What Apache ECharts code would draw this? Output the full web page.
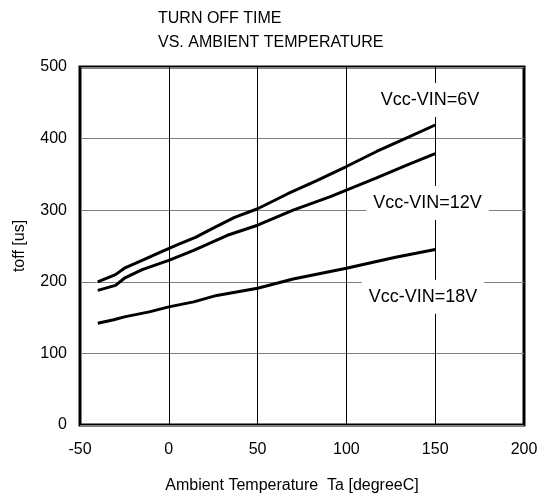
<!DOCTYPE html>
<html>
<head>
<meta charset="utf-8">
<script src="https://cdn.jsdelivr.net/npm/echarts@6/dist/echarts.min.js"></script>
<style>
  html, body { margin: 0; padding: 0; background: #fff; }
  #chart { width: 542px; height: 499px; }
</style>
</head>
<body>
<div id="chart"></div>
<script>
// Turn-off time vs. ambient temperature, three supply differentials
const temp6V  = [-40, -30, -25, -15, -5, 5, 15, 25, 37, 50, 67, 83, 100, 117, 134, 150];
const toff6V  = [200, 210, 219, 230, 241, 252, 262, 275, 290, 302, 323, 341, 361, 382, 401, 419];

const temp12V = [-40, -30, -25, -15, 0, 14, 33, 50, 70, 91, 100, 117, 134, 150];
const toff12V = [188, 195, 205, 217, 230, 244, 265, 279, 300, 319, 328, 345, 363, 379];

const temp18V = [-40, -31, -25, -11, 0, 14, 27, 50, 70, 100, 127, 150];
const toff18V = [142, 147, 151, 158, 165, 172, 181, 191, 204, 219, 234, 245];

const seriesNames = ['Vcc-VIN=6V', 'Vcc-VIN=12V', 'Vcc-VIN=18V'];
const xTicks = [-50, 0, 50, 100, 150, 200];
const yTicks = [0, 100, 200, 300, 400, 500];

const FONT = "'Liberation Sans', Arial, Helvetica, sans-serif";

function pairs(xs, ys) {
  return xs.map((x, i) => [x, ys[i]]);
}

// Curve annotation with a white box so grid lines break behind it
function tag(name, coord) {
  return {
    symbol: 'rect',
    symbolSize: 0,
    silent: true,
    data: [{ coord: coord, value: name }],
    label: {
      show: true,
      position: 'inside',
      formatter: name,
      color: '#000',
      fontFamily: FONT,
      fontSize: 18,
      backgroundColor: '#fff',
      padding: [8, 7, 8, 7]
    }
  };
}

const lineStyle = { color: '#000', width: 3 };

const chart = echarts.init(document.getElementById('chart'), null, { renderer: 'canvas' });
chart.setOption({
  animation: false,
  backgroundColor: '#fff',
  title: {
    text: 'TURN OFF TIME\nVS. AMBIENT TEMPERATURE',
    left: 153,
    top: 2,
    textStyle: {
      fontFamily: FONT,
      fontSize: 16,
      fontWeight: 'normal',
      color: '#000',
      lineHeight: 23.5
    }
  },
  grid: {
    left: 80, right: 18, top: 67, bottom: 74,
    show: true,
    borderColor: '#000',
    borderWidth: 3,
    backgroundColor: 'transparent'
  },
  xAxis: {
    type: 'value',
    min: xTicks[0],
    max: xTicks[xTicks.length - 1],
    interval: 50,
    name: 'Ambient Temperature  Ta [degreeC]',
    nameLocation: 'middle',
    nameGap: 53,
    nameTextStyle: {
      fontFamily: FONT, fontSize: 16, color: '#000',
      padding: [0, 20, 0, 0]
    },
    axisLine: { show: false },
    axisTick: { show: false },
    axisLabel: { fontFamily: FONT, fontSize: 16, color: '#000', margin: 17 },
    splitLine: { show: true, lineStyle: { color: '#000', width: 1 } }
  },
  yAxis: {
    type: 'value',
    min: yTicks[0],
    max: yTicks[yTicks.length - 1],
    interval: 100,
    name: 'toff [us]',
    nameLocation: 'middle',
    nameRotate: 90,
    nameGap: 52,
    nameTextStyle: { fontFamily: FONT, fontSize: 16, color: '#000' },
    axisLine: { show: false },
    axisTick: { show: false },
    axisLabel: { fontFamily: FONT, fontSize: 16, color: '#000', margin: 13 },
    splitLine: { show: true, lineStyle: { color: '#808080', width: 1 } }
  },
  series: [
    {
      name: seriesNames[0],
      type: 'line',
      data: pairs(temp6V, toff6V),
      showSymbol: false,
      lineStyle: lineStyle,
      z: 3,
      markPoint: tag(seriesNames[0], [147.1, 454])
    },
    {
      name: seriesNames[1],
      type: 'line',
      data: pairs(temp12V, toff12V),
      showSymbol: false,
      lineStyle: lineStyle,
      z: 3,
      markPoint: tag(seriesNames[1], [145.7, 310])
    },
    {
      name: seriesNames[2],
      type: 'line',
      data: pairs(temp18V, toff18V),
      showSymbol: false,
      lineStyle: lineStyle,
      z: 3,
      markPoint: tag(seriesNames[2], [143.1, 179])
    }
  ]
});
</script>
</body>
</html>
